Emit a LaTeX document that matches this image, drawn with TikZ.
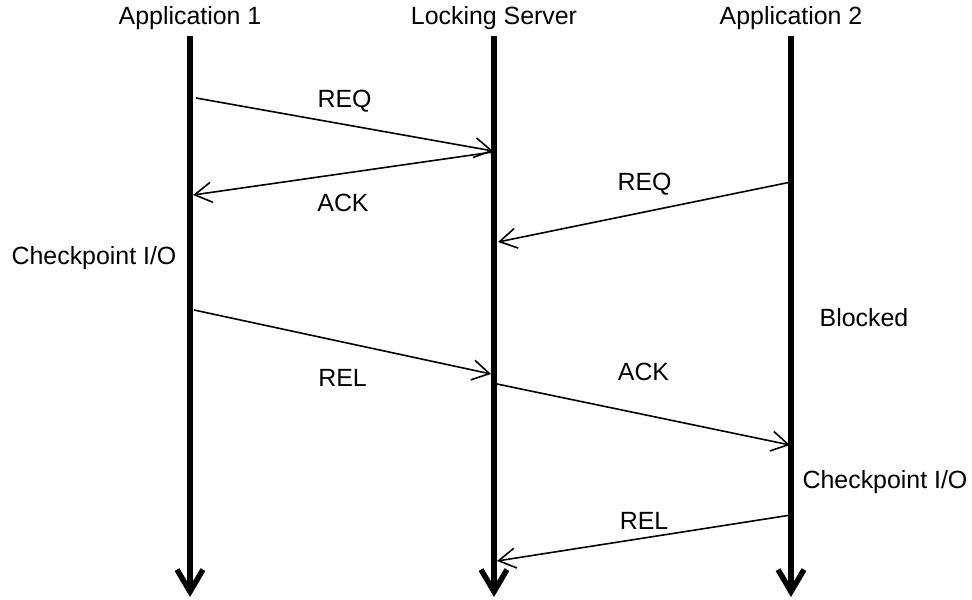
\documentclass[tikz,border=0pt]{standalone}
\usepackage{fontspec}
\setmainfont{Liberation Sans}
\usetikzlibrary{arrows.meta}
\begin{document}
\begin{tikzpicture}[x=1bp,y=-1bp]
		\tikzset{actor/.style = {font=\fontsize{25}{30}\selectfont, anchor=base, inner sep=0pt}}
		\tikzset{msglabel/.style = {font=\fontsize{25}{30}\selectfont, inner sep=0pt}}
		\tikzset{lifeline/.style = {line width=5.5bp, -{Straight Barb[length=22bp,width=26bp]}}}
		\tikzset{msg/.style = {draw, line width=1.6bp, -{Straight Barb[length=17bp,width=20bp]}}}
		\useasboundingbox (0,0) rectangle (972,600);
		% actors
		\node[actor] (app1) at (190,25) {Application 1};
		\node[actor] (server) at (494,25) {Locking Server};
		\node[actor] (app2) at (791,25) {Application 2};
		% lifelines
		\coordinate (app1top) at (190,36);
		\coordinate (app1end) at (190,597);
		\coordinate (servertop) at (494,36);
		\coordinate (serverend) at (494,597);
		\coordinate (app2top) at (791,36);
		\coordinate (app2end) at (791,597);
		\draw[lifeline] (app1top) -- (app1end);
		\draw[lifeline] (servertop) -- (serverend);
		\draw[lifeline] (app2top) -- (app2end);
		% message ends
		\coordinate (req1s) at (196,98);
		\coordinate (req1e) at (493,151);
		\coordinate (ack1s) at (493,152);
		\coordinate (ack1e) at (193,195);
		\coordinate (req2s) at (791,182);
		\coordinate (req2e) at (498,242);
		\coordinate (rel1s) at (194,310);
		\coordinate (rel1e) at (491,374);
		\coordinate (ack2s) at (497,384);
		\coordinate (ack2e) at (790,445);
		\coordinate (rel2s) at (791,515);
		\coordinate (rel2e) at (497,561);
		% messages
		\path (req1s) edge[msg] node[msglabel,above=11bp] {REQ} (req1e);
		\path (ack1s) edge[msg] node[msglabel,below=20bp] {ACK} (ack1e);
		\path (req2s) edge[msg] node[msglabel,above=16bp] {REQ} (req2e);
		\path (rel1s) edge[msg] node[msglabel,below=27bp] {REL} (rel1e);
		\path (ack2s) edge[msg] node[msglabel,above=33bp] {ACK} (ack2e);
		\path (rel2s) edge[msg] node[msglabel,above=8bp] {REL} (rel2e);
		% states
		\node[actor] (ckpt1) at (94,265) {Checkpoint I/O};
		\node[actor] (blocked) at (864,326) {Blocked};
		\node[actor] (ckpt2) at (885,488) {Checkpoint I/O};
	\end{tikzpicture}
\end{document}
